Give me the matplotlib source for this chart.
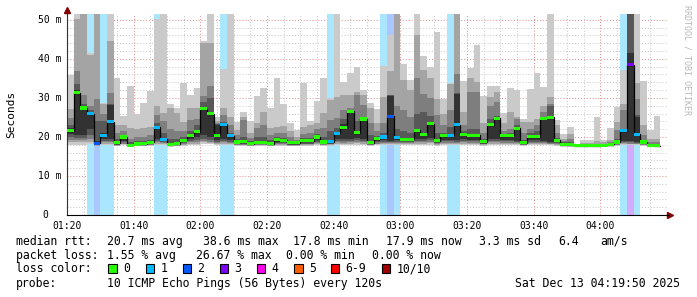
import matplotlib.pyplot as plt
from matplotlib.patches import Rectangle
from matplotlib.transforms import blended_transform_factory

# one column every 2 minutes starting 01:20, 10 pings per step
step_min = 2

loss = [0, 0, 0, 1, 2, 1, 1, 0, 0, 0, 0, 0, 0, 1, 1, 0, 0, 0, 0, 0,
        0, 0, 0, 1, 1, 0, 0, 0, 0, 0, 0, 0, 0, 0, 0, 0, 0, 0, 0, 1,
        1, 0, 0, 0, 0, 0, 0, 1, 2, 1, 0, 0, 0, 0, 0, 0, 0, 1, 1, 0,
        0, 0, 0, 0, 0, 0, 0, 0, 0, 0, 0, 0, 0, 0, 0, 0, 0, 0, 0, 0,
        0, 0, 0, 1, 3, 1, 0, 0, 0]

median = [21.6, 31.3, 27.4, 26.0, 18.4, 20.4, 23.9, 18.5, 20.0, 17.9,
          18.2, 18.3, 18.6, 22.5, 19.4, 18.1, 18.3, 19.2, 20.3, 21.3,
          27.2, 25.9, 20.4, 23.3, 20.3, 18.7, 18.8, 18.3, 18.6, 18.6,
          18.3, 19.3, 19.1, 18.5, 18.5, 19.0, 19.0, 20.0, 18.7, 18.8,
          20.9, 22.4, 26.6, 21.1, 24.6, 18.5, 19.6, 20.0, 25.3, 19.8,
          19.4, 19.4, 21.7, 20.7, 23.4, 19.0, 20.4, 20.4, 23.1, 20.7,
          20.4, 20.4, 18.8, 23.1, 24.8, 20.3, 20.4, 22.2, 18.5, 20.1,
          20.1, 24.8, 25.0, 19.1, 18.1, 18.0, 17.7, 17.7, 17.7, 17.7,
          17.9, 18.1, 18.7, 21.6, 38.5, 20.7, 18.7, 17.9, 17.8]

# sorted pings per step (ping1 = fastest, ping10 = slowest)
ping10 = [35.9, 52.0, 52.0, 41.5, 52.0, 28.8, 52.0, 35.2, 25.4, 33.1,
          25.9, 28.7, 31.8, 50.2, 52.0, 28.4, 27.5, 33.8, 30.8, 32.5,
          44.6, 52.0, 25.2, 37.4, 52.0, 23.9, 26.5, 24.2, 30.5, 32.6,
          27.5, 35.2, 28.5, 23.7, 21.8, 33.9, 24.2, 29.3, 35.2, 30.1,
          52.0, 34.2, 36.3, 38.0, 31.9, 28.6, 27.1, 38.2, 46.2, 52.0,
          38.7, 34.6, 52.0, 40.8, 37.9, 46.8, 29.7, 33.9, 52.0, 34.4,
          37.6, 43.6, 30.6, 33.1, 33.0, 26.2, 32.5, 31.9, 24.5, 32.2,
          36.3, 32.7, 52.0, 24.4, 20.7, 22.6, 18.3, 19.3, 19.3, 25.1,
          19.3, 22.2, 27.6, 37.1, 52.0, 52.0, 34.4, 21.8, 25.4]
ping9 = [27.2, 50.2, 52.0, 41.0, 52.0, 28.5, 44.6, 23.0, 23.1, 22.2,
         22.0, 22.2, 22.5, 27.9, 26.1, 27.4, 26.1, 23.9, 27.4, 27.5,
         44.0, 44.0, 24.0, 27.5, 25.2, 21.8, 25.2, 21.1, 23.5, 26.5,
         22.2, 22.5, 22.8, 21.5, 20.1, 22.6, 23.1, 23.7, 26.1, 29.5,
         30.3, 30.8, 30.8, 31.6, 30.8, 27.4, 23.5, 30.2, 36.8, 52.0,
         34.6, 31.9, 46.2, 37.2, 35.0, 29.7, 26.0, 33.5, 52.0, 26.5,
         35.0, 34.2, 23.5, 30.2, 31.4, 23.5, 26.3, 25.2, 23.9, 23.9,
         24.5, 27.8, 30.2, 23.0, 19.6, 20.7, 18.1, 18.5, 18.5, 19.0,
         18.6, 19.3, 23.9, 28.4, 52.0, 33.8, 23.0, 19.5, 19.5]
ping8 = [24.8, 36.9, 30.8, 28.0, 29.7, 26.0, 31.2, 21.0, 21.5, 19.5,
         20.0, 20.0, 20.4, 25.6, 24.0, 22.0, 21.4, 21.4, 24.4, 24.5,
         30.5, 33.1, 23.5, 25.6, 23.1, 20.5, 24.4, 19.8, 22.2, 23.1,
         20.5, 21.0, 21.0, 20.0, 19.3, 20.8, 21.0, 22.0, 22.2, 24.4,
         24.8, 27.0, 27.5, 30.8, 28.2, 23.5, 21.5, 23.5, 30.8, 28.0,
         27.0, 25.0, 35.0, 31.0, 30.0, 25.5, 23.0, 27.0, 36.2, 23.0,
         31.6, 31.6, 21.0, 27.8, 29.0, 21.5, 22.0, 24.5, 21.0, 22.0,
         23.0, 26.5, 28.5, 21.0, 19.0, 19.5, 18.0, 18.1, 18.1, 18.2,
         18.3, 18.7, 21.8, 27.0, 52.0, 29.6, 20.5, 18.7, 18.6]
ping7 = [23.0, 33.5, 28.5, 27.0, 24.0, 24.0, 28.5, 19.5, 20.5, 18.6,
         19.0, 19.0, 19.2, 23.5, 21.0, 19.5, 19.5, 20.0, 21.5, 23.1,
         29.0, 30.0, 23.2, 23.8, 21.0, 19.5, 20.0, 19.0, 20.0, 20.0,
         19.3, 20.0, 19.8, 19.0, 18.9, 19.8, 19.8, 20.8, 20.0, 21.5,
         22.2, 24.5, 27.0, 24.0, 25.0, 20.5, 20.2, 21.0, 30.7, 22.0,
         21.5, 21.0, 26.0, 26.5, 25.4, 21.0, 21.0, 22.5, 31.2, 21.5,
         22.0, 22.0, 19.5, 24.5, 25.4, 20.8, 21.0, 23.0, 19.2, 21.0,
         21.5, 25.2, 27.8, 19.8, 18.6, 18.6, 17.9, 17.9, 17.9, 17.9,
         18.1, 18.4, 19.5, 22.0, 52.0, 25.5, 19.3, 18.3, 18.2]
ping6 = [22.2, 32.0, 27.8, 26.4, 19.0, 21.0, 28.2, 18.8, 20.2, 18.1,
         18.5, 18.5, 18.8, 22.8, 19.8, 18.4, 18.6, 19.5, 20.6, 21.6,
         27.6, 26.2, 23.0, 23.6, 20.6, 18.9, 19.0, 18.5, 18.9, 18.9,
         18.5, 19.5, 19.3, 18.7, 18.7, 19.2, 19.2, 20.2, 19.0, 19.2,
         21.2, 23.3, 26.8, 21.5, 24.8, 18.8, 19.8, 20.2, 30.5, 20.2,
         19.6, 19.6, 22.0, 21.0, 23.7, 19.3, 20.6, 20.7, 31.0, 20.9,
         20.6, 20.6, 19.0, 23.4, 25.0, 20.5, 20.6, 22.5, 18.7, 20.3,
         20.3, 25.0, 25.3, 19.3, 18.3, 18.2, 17.8, 17.8, 17.8, 17.8,
         18.0, 18.3, 18.9, 21.8, 41.6, 25.2, 18.9, 18.1, 18.0]
ping5 = [20.8, 20.5, 20.5, 22.0, 18.2, 19.5, 19.5, 18.2, 19.0, 17.8,
         18.0, 18.1, 18.3, 19.5, 19.0, 17.9, 18.1, 18.8, 19.5, 20.0,
         20.5, 20.0, 19.2, 19.5, 19.2, 18.4, 18.5, 18.1, 18.3, 18.3,
         18.1, 18.8, 18.7, 18.2, 18.2, 18.6, 18.6, 19.2, 18.4, 18.5,
         19.5, 19.5, 19.5, 19.8, 19.5, 18.3, 19.0, 19.2, 19.0, 19.2,
         19.0, 19.0, 19.5, 19.5, 19.8, 18.7, 19.3, 19.3, 19.2, 19.5,
         19.3, 19.3, 18.5, 19.5, 19.5, 19.3, 19.3, 19.0, 18.3, 19.2,
         19.2, 19.0, 18.8, 18.7, 17.9, 17.9, 17.6, 17.6, 17.6, 17.6,
         17.8, 17.9, 18.4, 19.0, 19.0, 18.8, 18.4, 17.8, 17.7]
ping4 = [20.0, 19.8, 19.8, 20.5, 18.0, 19.0, 19.0, 18.0, 18.6, 17.7,
         17.9, 18.0, 18.1, 19.0, 18.7, 17.8, 18.0, 18.5, 19.0, 19.2,
         19.5, 19.3, 18.8, 19.0, 18.8, 18.2, 18.2, 18.0, 18.1, 18.1,
         18.0, 18.5, 18.4, 18.0, 18.0, 18.3, 18.3, 18.8, 18.2, 18.3,
         19.0, 18.9, 19.0, 19.2, 19.0, 18.1, 18.6, 18.8, 18.7, 18.8,
         18.7, 18.7, 19.0, 19.0, 19.2, 18.4, 18.9, 18.9, 18.8, 19.0,
         18.9, 18.9, 18.3, 19.0, 19.0, 18.9, 18.9, 18.7, 18.1, 18.8,
         18.8, 18.7, 18.5, 18.4, 17.8, 17.8, 17.6, 17.6, 17.6, 17.5,
         17.7, 17.8, 18.2, 18.7, 18.6, 18.5, 18.2, 17.7, 17.6]
ping3 = [19.3, 19.2, 19.2, 19.5, 17.9, 18.6, 18.6, 17.9, 18.3, 17.6,
         17.8, 17.9, 18.0, 18.6, 18.4, 17.7, 17.9, 18.2, 18.6, 18.7,
         19.0, 18.8, 18.4, 18.6, 18.5, 18.0, 18.0, 17.9, 18.0, 18.0,
         17.9, 18.2, 18.2, 17.9, 17.9, 18.1, 18.1, 18.5, 18.0, 18.1,
         18.6, 18.5, 18.6, 18.8, 18.6, 18.0, 18.3, 18.5, 18.4, 18.5,
         18.4, 18.4, 18.6, 18.6, 18.8, 18.2, 18.5, 18.5, 18.5, 18.6,
         18.5, 18.5, 18.1, 18.6, 18.6, 18.5, 18.5, 18.4, 18.0, 18.5,
         18.5, 18.4, 18.3, 18.2, 17.7, 17.7, 17.5, 17.5, 17.5, 17.4,
         17.6, 17.7, 18.0, 18.4, 18.3, 18.3, 18.0, 17.6, 17.5]
ping2 = [18.6, 18.6, 18.6, 18.8, 17.8, 18.3, 18.3, 17.8, 18.1, 17.5,
         17.7, 17.8, 17.9, 18.3, 18.2, 17.6, 17.8, 18.0, 18.3, 18.3,
         18.6, 18.4, 18.1, 18.3, 18.2, 17.9, 17.9, 17.8, 17.9, 17.9,
         17.8, 18.0, 18.0, 17.8, 17.8, 17.9, 17.9, 18.2, 17.9, 17.9,
         18.3, 18.2, 18.3, 18.4, 18.3, 17.9, 18.1, 18.2, 18.2, 18.2,
         18.1, 18.1, 18.3, 18.3, 18.4, 18.0, 18.2, 18.2, 18.2, 18.3,
         18.2, 18.2, 17.9, 18.3, 18.3, 18.2, 18.2, 18.2, 17.9, 18.2,
         18.2, 18.2, 18.1, 18.0, 17.6, 17.6, 17.5, 17.5, 17.5, 17.4,
         17.5, 17.6, 17.9, 18.2, 18.1, 18.1, 17.9, 17.5, 17.4]
ping1 = [18.0, 18.0, 18.0, 18.2, 17.7, 18.0, 18.0, 17.7, 17.9, 17.4,
         17.6, 17.7, 17.8, 18.0, 18.0, 17.5, 17.7, 17.8, 18.0, 18.0,
         18.2, 18.1, 17.9, 18.0, 18.0, 17.7, 17.7, 17.6, 17.7, 17.7,
         17.6, 17.8, 17.8, 17.6, 17.6, 17.7, 17.7, 17.9, 17.7, 17.7,
         18.0, 17.9, 18.0, 18.0, 18.0, 17.7, 17.9, 17.9, 17.9, 17.9,
         17.9, 17.9, 18.0, 18.0, 18.0, 17.8, 17.9, 17.9, 17.9, 18.0,
         17.9, 17.9, 17.7, 18.0, 18.0, 17.9, 17.9, 17.9, 17.7, 17.9,
         17.9, 17.9, 17.9, 17.8, 17.5, 17.5, 17.4, 17.4, 17.4, 17.3,
         17.4, 17.5, 17.7, 17.9, 17.9, 17.9, 17.7, 17.4, 17.3]

time_ticks = [0, 20, 40, 60, 80, 100, 120, 140, 160]
time_labels = ['01:20', '01:40', '02:00', '02:20', '02:40',
               '03:00', '03:20', '03:40', '04:00']
y_ticks = [0, 10, 20, 30, 40, 50]
y_labels = ['0', '10 m', '20 m', '30 m', '40 m', '50 m']

loss_keys = [0, 1, 2, 3, 4, 5, 6, 10]
loss_names = ['0', '1', '2', '3', '4', '5', '6-9', '10/10']
loss_hex = ['#26ff00', '#00b8ff', '#0059ff', '#7e00ff',
            '#ff00ea', '#ff5e00', '#ff0000', '#a10000']
loss_col = dict(zip(loss_keys, loss_hex))


def lighten(hexc, a=0.33):
    r, g, b = (int(hexc[i:i + 2], 16) for i in (1, 3, 5))
    mix = [int(255 * (1 - a) + c * a) for c in (r, g, b)]
    return '#%02x%02x%02x' % tuple(mix)


plt.rcParams['font.family'] = 'DejaVu Sans Mono'

W, H = 697, 297
fig = plt.figure(figsize=(W / 100, H / 100), dpi=100)
fig.patch.set_facecolor('white')
ax = fig.add_axes([67 / W, 82 / H, 601 / W, 201 / H])

n = len(median)
x = [k * step_min for k in range(n)]
xs = x + [n * step_min]


def ext(v):
    return list(v) + [v[-1]]


# loss background over the full height
for xi, ls in zip(x, loss):
    if ls > 0:
        ax.axvspan(xi, xi + step_min, color=lighten(loss_col[ls]), lw=0, zorder=1)

# smoke layers: outer pings light, inner pings dark
smoke = [(ping1, ping10, '#cacaca'), (ping2, ping9, '#a4a4a4'),
         (ping3, ping8, '#7e7e7e'), (ping4, ping7, '#585858'),
         (ping5, ping6, '#323232')]
for lo, hi, c in smoke:
    ax.fill_between(xs, ext(lo), ext(hi), step='post', color=c, lw=0, zorder=2)

ax.step(xs, ext(median), where='post', color='#000000', lw=0.9, zorder=3)
for xi, m, ls in zip(x, median, loss):
    ax.bar(xi, 0.8, bottom=m - 0.4, width=step_min, align='edge',
           color=loss_col[ls], lw=0, zorder=4)

ax.set_xlim(0, 180.3)
ax.set_ylim(0, 51.5)
ax.set_xticks(time_ticks)
ax.set_xticklabels(time_labels, fontsize=7)
ax.set_xticks(list(range(0, 180, 5)), minor=True)
ax.set_yticks(y_ticks)
ax.set_yticklabels([])
ax.set_yticks(list(range(0, 52, 2)), minor=True)
ax.tick_params(which='both', length=0, pad=4)
ax.set_axisbelow(True)
ax.grid(which='minor', color='#c4c4c4', ls=(0, (1, 2)), lw=0.7)
ax.grid(which='major', color='#e08a8a', ls=(0, (1, 2)), lw=0.7)

tr = blended_transform_factory(ax.transAxes, ax.transData)
for v, lab in zip(y_ticks, y_labels):
    xr = -5 / 601 if lab != '0' else -19 / 601
    ax.text(xr, v, lab, transform=tr, ha='right', va='center', fontsize=7)

for s in ('top', 'right'):
    ax.spines[s].set_visible(False)
ax.spines['left'].set_color('#303030')
ax.spines['bottom'].set_color('#000000')
ax.plot([1.004], [0], marker='>', ms=4, color='#800000',
        transform=ax.transAxes, clip_on=False)
ax.plot([0], [1.02], marker='^', ms=4, color='#800000',
        transform=ax.transAxes, clip_on=False)

fig.text(11 / W, 1 - 114 / H, 'Seconds', rotation=90, ha='center',
         va='center', fontsize=8)
fig.text(687 / W, 1 - 5 / H, 'RRDTOOL / TOBI OETIKER', rotation=270,
         ha='center', va='top', fontsize=6, color='#b8b8b8')

fs = 8.3


def put(px, py, s, ha='left'):
    fig.text(px / W, 1 - py / H, s, fontsize=fs, ha=ha, va='center')


put(16, 241.3, 'median rtt:')
for px, s in [(107.3, '20.7 ms avg'), (203, '38.6 ms max'),
              (293, '17.8 ms min'), (385.7, '17.9 ms now'),
              (479.3, '3.3 ms sd'), (558.3, '6.4'), (600, 'am/s')]:
    put(px, 241.3, s)
put(16, 255.3, 'packet loss:')
for px, s in [(107.3, '1.55 % avg'), (196, '26.67 % max'),
              (286, '0.00 % min'), (372.3, '0.00 % now')]:
    put(px, 255.3, s)
put(16, 268.5, 'loss color:')
box_x = [108.3, 145.7, 182.7, 220, 256.7, 294.3, 331, 381.7]
for bx, name, c in zip(box_x, loss_names, loss_hex):
    fig.add_artist(Rectangle((bx / W, 1 - 272.7 / H), 8.3 / W, 8.3 / H,
                             transform=fig.transFigure, facecolor=c,
                             edgecolor='black', lw=0.8))
    put(bx + 14.5, 268.5, name)
put(16, 283.5, 'probe:')
put(107.3, 283.5, '10 ICMP Echo Pings (56 Bytes) every 120s')
put(680, 283.5, 'Sat Dec 13 04:19:50 2025', ha='right')

fig.savefig('out.png', dpi=100)
